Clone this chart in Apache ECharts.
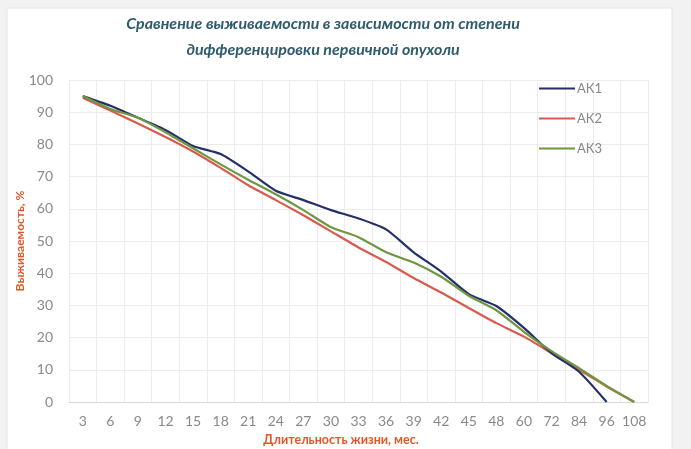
<!DOCTYPE html>
<html><head><meta charset="utf-8">
<script src="https://cdn.jsdelivr.net/npm/echarts@6/dist/echarts.min.js"></script>
<style>html,body{margin:0;padding:0;background:#f2f2f2;}#c{width:691px;height:449px;}</style>
</head><body><div id="c"></div>
<script>
const categories = ['3','6','9','12','15','18','21','24','27','30','33','36','39','42','45','48','60','72','84','96','108'];
const ak1 = [95, 92, 88.3, 84.5, 79.5, 77, 71.6, 65.6, 62.7, 59.6, 57, 53.6, 46.5, 40.5, 33.5, 29.8, 23, 15.2, 9.4, 0, null];
const ak2 = [94.5, 90.5, 86.5, 82.3, 77.8, 72.7, 67.3, 62.7, 58, 53, 48, 43.5, 38.5, 34, 29.2, 24.5, 20.3, 15.2, 10, 4.8, 0];
const ak3 = [95, 91, 88.3, 83.8, 78.8, 73.8, 69, 64.5, 59.6, 54.3, 51.2, 46.5, 43.3, 38.9, 33, 28.5, 21.8, 15.8, 10.5, 5, 0];
const seriesNames = ['АК1', 'АК2', 'АК3'];
const yTicks = {min: 0, max: 100, interval: 10};

const chart = echarts.init(document.getElementById('c'));
const lbl = '#8a8a8a';
const orange = '#e0582a';
chart.setOption({
  backgroundColor: 'transparent',
  graphic: [
    {type: 'rect', shape: {x: 7, y: 8, width: 665, height: 445}, style: {fill: '#ffffff', stroke: '#e4e4e4', lineWidth: 1}, z: -10},
    {type: 'text', x: 20, y: 241, rotation: Math.PI/2, style: {x: 0, y: 0, text: 'Выживаемость, %', fill: orange, font: 'bold 12px Lato', textAlign: 'center', textVerticalAlign: 'middle'}},
    {type: 'text', style: {x: 341, y: 440, text: 'Длительность жизни, мес.', fill: orange, font: 'bold 12.5px Lato', textAlign: 'center', textVerticalAlign: 'middle'}}
  ],
  title: {
    text: 'Сравнение выживаемости в зависимости от степени\nдифференцировки первичной опухоли',
    left: 318, top: 6, textAlign: 'center',
    textStyle: {color: '#2f5c6c', fontFamily: 'Lato', fontStyle: 'italic', fontWeight: 'bold', fontSize: 16, lineHeight: 26}
  },
  legend: {
    orient: 'vertical', left: 534, top: 77, itemWidth: 36, itemHeight: 14, itemGap: 17,
    icon: 'path://M0,0 L36,0 L36,2 L0,2 Z',
    textStyle: {color: '#888', fontFamily: 'Lato', fontSize: 13, padding: [0,0,0,-3]},
    data: seriesNames
  },
  grid: {left: 69, right: 43, top: 80, bottom: 47},
  xAxis: {
    type: 'category', data: categories, boundaryGap: true,
    axisLine: {lineStyle: {color: '#d9d9d9'}}, axisTick: {show: false},
    axisLabel: {color: lbl, fontFamily: 'Lato', fontSize: 14, margin: 12, interval: 0},
    splitLine: {show: true, interval: 0, lineStyle: {color: '#ececec'}}
  },
  yAxis: {
    type: 'value', min: yTicks.min, max: yTicks.max, interval: yTicks.interval,
    axisLine: {show: false}, axisTick: {show: false},
    axisLabel: {color: lbl, fontFamily: 'Lato', fontSize: 14, margin: 16},
    splitLine: {lineStyle: {color: '#ececec'}}
  },
  series: [
    {name: seriesNames[0], type: 'line', data: ak1, smooth: 0.2, showSymbol: false, lineStyle: {width: 2.2, color: '#23306a'}, itemStyle: {color: '#23306a'}, z: 3},
    {name: seriesNames[1], type: 'line', data: ak2, smooth: 0.2, showSymbol: false, lineStyle: {width: 2.2, color: '#d95a4e'}, itemStyle: {color: '#d95a4e'}, z: 2},
    {name: seriesNames[2], type: 'line', data: ak3, smooth: 0.2, showSymbol: false, lineStyle: {width: 2.2, color: '#6f9640'}, itemStyle: {color: '#6f9640'}, z: 4}
  ]
});
</script></body></html>
